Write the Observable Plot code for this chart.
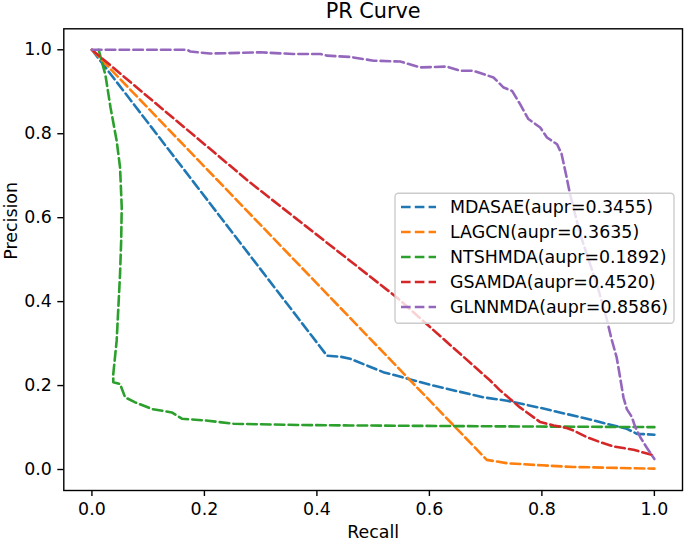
<!DOCTYPE html>
<html>
<head>
<meta charset="utf-8">
<script src="https://cdn.jsdelivr.net/npm/d3@7"></script>
<script src="https://cdn.jsdelivr.net/npm/@observablehq/plot@0.6"></script>
<style>
  html, body { margin: 0; padding: 0; background: #fff; }
</style>
</head>
<body>
<div id="chart"></div>
<script>
// ---- data ----
const modelNames = ["MDASAE", "LAGCN", "NTSHMDA", "GSAMDA", "GLNNMDA"];
const auprValues = [0.3455, 0.3635, 0.1892, 0.4520, 0.8586];
const modelColors = ["#1f77b4", "#ff7f0e", "#2ca02c", "#d62728", "#9467bd"];

const mdasaeRecall    = [0, 0.418, 0.441, 0.459, 0.518, 0.607, 0.696, 0.738, 0.797, 0.832, 0.880, 0.915, 0.951, 0.969, 1.0];
const mdasaePrecision = [1, 0.271, 0.269, 0.264, 0.232, 0.200, 0.172, 0.164, 0.147, 0.136, 0.121, 0.109, 0.097, 0.085, 0.083];

const lagcnRecall    = [0, 0.702, 0.738, 0.800, 0.856, 1.0];
const lagcnPrecision = [1, 0.023, 0.015, 0.010, 0.006, 0.002];

const ntshmdaRecall    = [0.012, 0.024, 0.033, 0.044, 0.050, 0.053, 0.052, 0.050, 0.047, 0.044, 0.038, 0.038, 0.050, 0.059, 0.077, 0.107, 0.142, 0.160, 0.201, 0.252, 0.370, 0.459, 0.700, 1.0];
const ntshmdaPrecision = [1.0, 0.940, 0.863, 0.783, 0.720, 0.625, 0.545, 0.466, 0.386, 0.307, 0.228, 0.208, 0.204, 0.172, 0.160, 0.144, 0.136, 0.121, 0.117, 0.109, 0.106, 0.105, 0.103, 0.101];

const gsamdaRecall    = [0, 0.281, 0.542, 0.708, 0.726, 0.761, 0.797, 0.821, 0.844, 0.856, 0.880, 0.904, 0.927, 0.963, 1.0];
const gsamdaPrecision = [1, 0.684, 0.410, 0.212, 0.188, 0.148, 0.113, 0.105, 0.099, 0.093, 0.077, 0.065, 0.055, 0.047, 0.033];

const glnnmdaRecall    = [0, 0.169, 0.175, 0.210, 0.299, 0.358, 0.406, 0.418, 0.459, 0.501, 0.548, 0.584, 0.631, 0.655, 0.678, 0.714, 0.732, 0.747, 0.761, 0.776, 0.797, 0.809, 0.827, 0.835, 0.844, 0.850, 0.868, 0.883, 0.898, 0.915, 0.924, 0.933, 0.939, 0.945, 0.951, 0.960, 0.966, 0.975, 0.986, 1.0];
const glnnmdaPrecision = [1, 1.000, 0.996, 0.991, 0.994, 0.990, 0.990, 0.986, 0.983, 0.974, 0.972, 0.958, 0.960, 0.950, 0.950, 0.934, 0.910, 0.902, 0.871, 0.835, 0.815, 0.791, 0.775, 0.752, 0.696, 0.656, 0.561, 0.500, 0.440, 0.360, 0.310, 0.267, 0.220, 0.172, 0.144, 0.125, 0.101, 0.077, 0.053, 0.025];

const xTicks = [0, 0.2, 0.4, 0.6, 0.8, 1.0];
const yTicks = [0, 0.2, 0.4, 0.6, 0.8, 1.0];

// ---- build table ----
const seriesRecall = [mdasaeRecall, lagcnRecall, ntshmdaRecall, gsamdaRecall, glnnmdaRecall];
const seriesPrecision = [mdasaePrecision, lagcnPrecision, ntshmdaPrecision, gsamdaPrecision, glnnmdaPrecision];
const rows = [];
modelNames.forEach((m, i) => {
  seriesRecall[i].forEach((r, j) => rows.push({model: m, recall: r, precision: seriesPrecision[i][j]}));
});

const dash = "9.6,4.2";
const lw = 2.6;

const chart = Plot.plot({
  width: 685,
  height: 541,
  marginLeft: 63.3,
  marginRight: 3,
  marginTop: 28.3,
  marginBottom: 51,
  style: {fontFamily: "DejaVu Sans", fontSize: "17.4px", color: "black", background: "white", overflow: "visible"},
  x: {domain: [-0.05, 1.05]},
  y: {domain: [-0.05, 1.05]},
  color: {domain: modelNames, range: modelColors},
  marks: [
    Plot.line(rows, {x: "recall", y: "precision", z: "model", stroke: "model", strokeWidth: lw, strokeDasharray: dash, clip: true}),
    Plot.frame({stroke: "black", strokeWidth: 1.4}),
    Plot.axisX({ticks: xTicks, tickFormat: d3.format(".1f"), tickSize: 6, tickPadding: 6, strokeWidth: 1.4, label: null, fontSize: 17.4}),
    Plot.axisY({ticks: yTicks, tickFormat: d3.format(".1f"), tickSize: 6, tickPadding: 6, strokeWidth: 1.4, label: null, fontSize: 17.4}),
    Plot.text(["PR Curve"], {text: d => d, frameAnchor: "top", lineAnchor: "bottom", dy: -10.4, fontSize: 20.8}),
    Plot.text(["Recall"], {text: d => d, frameAnchor: "bottom", lineAnchor: "top", dy: 35.6, fontSize: 17.4}),
    Plot.text(["Precision"], {text: d => d, frameAnchor: "left", rotate: -90, lineAnchor: "bottom", dx: -47, fontSize: 17.4})
  ]
});

// ---- legend (center right, inside axes) ----
const svg = d3.select(chart);
const lg = svg.append("g")
  .attr("font-family", "DejaVu Sans")
  .attr("font-size", "17.4px")
  .attr("text-anchor", "start");
lg.append("rect")
  .attr("x", 395).attr("y", 193.3).attr("width", 279).attr("height", 130)
  .attr("rx", 3.5).attr("ry", 3.5)
  .attr("fill", "white").attr("fill-opacity", 0.8)
  .attr("stroke", "#cccccc").attr("stroke-width", 1.4);
modelNames.forEach((m, i) => {
  const cy = 207 + 25 * i;
  lg.append("line")
    .attr("x1", 401).attr("x2", 436).attr("y1", cy).attr("y2", cy)
    .attr("fill", "none")
    .attr("stroke", modelColors[i]).attr("stroke-width", lw).attr("stroke-dasharray", dash);
  lg.append("text")
    .attr("x", 450).attr("y", cy).attr("dy", "0.36em").attr("fill", "black")
    .attr("text-anchor", "start")
    .text(`${m}(aupr=${auprValues[i].toFixed(4)})`);
});

document.getElementById("chart").appendChild(chart);
</script>
</body>
</html>
